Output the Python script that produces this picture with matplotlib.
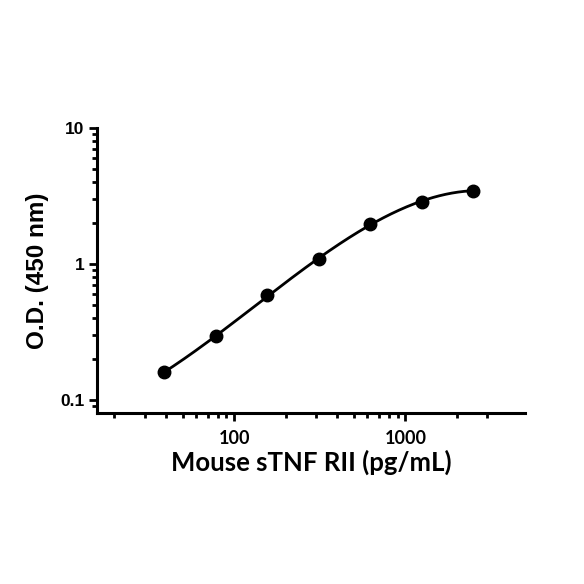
"""
ELISA standard curve - mouse sTNF RII
"""
import numpy as np
import matplotlib
matplotlib.use("Agg")
import matplotlib.pyplot as plt
from matplotlib.ticker import FixedLocator, NullFormatter

conc = [39.06, 78.125, 156.25, 312.5, 625, 1250, 2500]
od = [0.160, 0.292, 0.585, 1.08, 1.97, 2.87, 3.46]

x_major = [100, 1000]
x_major_labels = ["100", "1000"]
x_minor = [20, 30, 40, 50, 60, 70, 80, 90,
           200, 300, 400, 500, 600, 700, 800, 900, 2000, 3000]
y_major = [0.1, 1, 10]
y_major_labels = ["0.1", "1", "10"]
y_minor = [0.09] + [k * 0.1 for k in range(2, 10)] + list(range(2, 10))

# smooth fitted curve through the standards (log-log cubic fit)
lx, ly = np.log10(conc), np.log10(od)
coef = np.polyfit(lx, ly, 3)
xf = np.linspace(lx[0], lx[-1], 200)
yf = np.polyval(coef, xf)

fig = plt.figure(figsize=(5.84, 5.84), dpi=100)
ax = fig.add_axes([0.166, 0.293, 0.733, 0.488])

ax.plot(10 ** xf, 10 ** yf, color="black", lw=2)
ax.plot(conc, od, "o", color="black", ms=9)

ax.set_xscale("log")
ax.set_yscale("log")
ax.set_xlim(15.8, 5000)
ax.set_ylim(0.08, 10)

ax.xaxis.set_major_locator(FixedLocator(x_major))
ax.set_xticklabels(x_major_labels)
ax.xaxis.set_minor_locator(FixedLocator(x_minor))
ax.xaxis.set_minor_formatter(NullFormatter())
ax.yaxis.set_major_locator(FixedLocator(y_major))
ax.set_yticklabels(y_major_labels)
ax.yaxis.set_minor_locator(FixedLocator(y_minor))
ax.yaxis.set_minor_formatter(NullFormatter())

for s in ["top", "right"]:
    ax.spines[s].set_visible(False)
for s in ["left", "bottom"]:
    ax.spines[s].set_linewidth(2.2)

ax.tick_params(which="major", direction="out", length=6, width=2, pad=3)
ax.tick_params(axis="x", which="major", pad=6)
ax.tick_params(which="minor", direction="out", length=3.5, width=2)
for lab in ax.get_xticklabels():
    lab.set_fontfamily("Lato")
    lab.set_fontweight("bold")
    lab.set_fontsize(13)
for lab in ax.get_yticklabels():
    lab.set_fontfamily("Liberation Sans")
    lab.set_fontweight("bold")
    lab.set_fontsize(12.5)

ax.set_xlabel("Mouse sTNF RII (pg/mL)", fontfamily="Lato", fontweight="bold",
              fontsize=18.5, labelpad=2)
ax.set_ylabel("O.D. (450 nm)", fontfamily="Liberation Sans", fontweight="bold",
              fontsize=17.5, labelpad=8)

fig.savefig("out.png", dpi=100, facecolor="white")
